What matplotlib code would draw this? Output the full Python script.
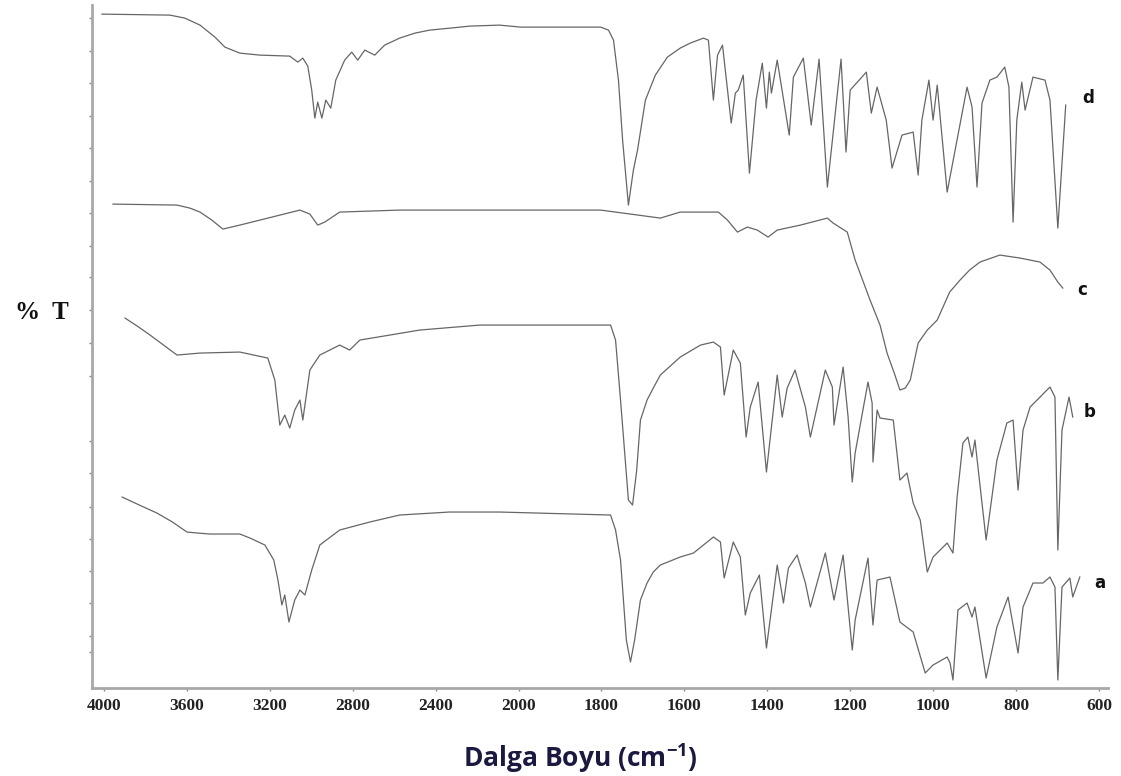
import numpy as np
import matplotlib.pyplot as plt

plt.rcParams['mathtext.fontset'] = 'custom'
plt.rcParams['mathtext.rm'] = 'Open Sans:bold'
plt.rcParams['mathtext.default'] = 'rm'

# IR spektrumlari (dalga sayisi cm-1, kaydirilmis %T)
wn_d = [4010, 3682, 3610, 3537, 3465, 3417, 3345, 3248, 3104, 3065, 3041, 3017, 2998, 2983, 2969,
        2949, 2930, 2906, 2882, 2839, 2805, 2776, 2742, 2694, 2646, 2574, 2500, 2429, 2330, 2236,
        2092, 1995, 1899, 1802, 1783, 1771, 1759, 1749, 1735, 1723, 1713, 1694, 1670, 1641, 1610,
        1586, 1554, 1542, 1530, 1520, 1508, 1487, 1477, 1470, 1458, 1443, 1427, 1412, 1402, 1395,
        1390, 1376, 1347, 1337, 1313, 1294, 1275, 1255, 1222, 1210, 1200, 1161, 1149, 1135, 1113,
        1099, 1075, 1048, 1036, 1027, 1010, 1000, 990, 966, 918, 906, 894, 882, 863, 846,
        827, 817, 807, 798, 786, 778, 759, 730, 718, 699, 680]
t_d = [674, 673, 670, 663, 651, 641, 635, 633, 632, 626, 630, 622, 598, 570, 586,
       570, 588, 580, 608, 628, 636, 628, 638, 633, 643, 650, 655, 658, 660, 662,
       663, 661, 661, 661, 658, 648, 608, 548, 483, 518, 538, 588, 613, 631, 640,
       645, 650, 648, 588, 633, 643, 565, 595, 598, 613, 515, 588, 625, 580, 616,
       595, 628, 553, 611, 630, 563, 629, 501, 629, 536, 598, 616, 575, 601, 568,
       520, 553, 556, 513, 568, 608, 568, 603, 496, 601, 581, 501, 585, 608, 611,
       621, 601, 466, 568, 606, 578, 611, 608, 588, 460, 583]

wn_c = [3957, 3648, 3586, 3537, 3480, 3427, 3345, 3248, 3055, 3007, 2969, 2935, 2863, 2574, 2092,
        1802, 1658, 1610, 1518, 1496, 1472, 1448, 1424, 1398, 1376, 1320, 1255, 1241, 1207, 1188,
        1152, 1128, 1111, 1092, 1080, 1067, 1055, 1036, 1014, 990, 960, 935, 912, 887, 839,
        790, 742, 718, 699, 687]
t_c = [484, 483, 480, 476, 468, 459, 463, 468, 478, 474, 463, 466, 476, 478, 478,
       478, 470, 476, 476, 468, 456, 461, 458, 451, 458, 463, 470, 465, 456, 428,
       388, 363, 335, 313, 298, 300, 308, 345, 358, 368, 396, 408, 418, 426, 433,
       430, 426, 418, 406, 400]

wn_b = [3899, 3840, 3778, 3700, 3648, 3537, 3345, 3210, 3176, 3152, 3128, 3104, 3080, 3055, 3041,
        3007, 2959, 2863, 2815, 2766, 2477, 2188, 1778, 1766, 1754, 1735, 1725, 1715, 1706, 1690,
        1675, 1658, 1610, 1561, 1530, 1513, 1504, 1482, 1465, 1451, 1441, 1422, 1402, 1376, 1364,
        1352, 1333, 1308, 1296, 1260, 1243, 1239, 1217, 1205, 1195, 1188, 1157, 1147, 1145, 1135,
        1128, 1096, 1080, 1063, 1048, 1031, 1014, 1000, 966, 952, 942, 928, 916, 906, 899,
        872, 846, 822, 807, 795, 783, 766, 742, 718, 706, 699, 689, 672, 663]
t_b = [370, 362, 353, 341, 333, 335, 336, 330, 308, 263, 273, 260, 278, 288, 268,
       318, 333, 343, 338, 348, 358, 363, 363, 348, 288, 188, 183, 218, 268, 288,
       300, 313, 331, 343, 346, 341, 293, 338, 325, 251, 281, 306, 216, 313, 271,
       300, 318, 281, 251, 318, 301, 263, 321, 271, 206, 235, 306, 285, 226, 278,
       270, 268, 208, 215, 185, 168, 116, 131, 145, 135, 191, 245, 251, 231, 248,
       148, 228, 265, 268, 198, 258, 281, 291, 301, 291, 138, 258, 291, 271]

wn_a = [3913, 3830, 3745, 3670, 3600, 3550, 3489, 3345, 3296, 3224, 3181, 3161, 3142, 3128, 3108,
        3080, 3055, 3031, 2998, 2959, 2863, 2718, 2574, 2333, 2092, 1778, 1766, 1754, 1740, 1730,
        1720, 1706, 1690, 1675, 1658, 1610, 1578, 1530, 1513, 1504, 1482, 1465, 1453, 1441, 1419,
        1402, 1376, 1361, 1349, 1328, 1308, 1296, 1260, 1239, 1217, 1205, 1195, 1188, 1157, 1145,
        1135, 1104, 1080, 1048, 1019, 1000, 966, 959, 952, 940, 918, 906, 899, 872, 846,
        819, 795, 783, 759, 735, 718, 706, 699, 689, 670, 663, 646]
t_a = [191, 183, 175, 166, 156, 155, 154, 154, 150, 143, 128, 108, 83, 93, 66,
       88, 98, 93, 118, 143, 158, 166, 173, 176, 176, 173, 158, 128, 48, 26,
       48, 88, 105, 116, 123, 131, 135, 151, 146, 110, 146, 131, 73, 95, 113,
       40, 123, 85, 120, 133, 105, 81, 135, 88, 133, 81, 38, 68, 130, 63,
       108, 111, 66, 56, 15, 23, 31, 25, 8, 78, 85, 71, 81, 10, 61,
       91, 35, 81, 105, 105, 111, 101, 8, 101, 110, 91, 111]

xticks = [4000, 3600, 3200, 2800, 2400, 2000, 1800, 1600, 1400, 1200, 1000, 800, 600]
etiketler = ['d', 'c', 'b', 'a']
etiket_yer = [(626, 590), (641, 398), (622, 276), (598, 105)]


# 2000 cm-1 altinda olcek iki katina cikiyor
def ileri(w):
    w = np.asarray(w, dtype=float)
    return np.where(w >= 2000, w, 2000 + 2 * (w - 2000))


def geri(u):
    u = np.asarray(u, dtype=float)
    return np.where(u >= 2000, u, 2000 + (u - 2000) / 2)


fig = plt.figure(figsize=(11.21, 7.76), dpi=100)
ax = fig.add_axes([0.0821, 0.1134, 0.9063, 0.880])
ax.set_xscale('function', functions=(ileri, geri))

for wn, t in [(wn_d, t_d), (wn_c, t_c), (wn_b, t_b), (wn_a, t_a)]:
    ax.plot(wn, t, color='#666666', lw=0.9, solid_joinstyle='round')

for harf, (x, y) in zip(etiketler, etiket_yer):
    ax.text(x, y, harf, fontsize=12, fontweight='bold', family='DejaVu Sans',
            ha='center', va='center', color='#111111')

ax.set_xlim(4058, 578)
ax.set_ylim(0, 683)
ax.set_xticks(xticks)
ax.set_xticklabels([str(v) for v in xticks], family='Liberation Serif',
                   fontweight='bold', fontsize=12.5, color='#222222')
ax.set_yticks([670, 637, 605, 572, 540, 507, 475, 442, 411, 378, 345, 312,
               247, 215, 181, 149, 117, 85, 52, 36])
ax.set_yticklabels([])
ax.tick_params(axis='both', direction='out', length=2.5, width=1, color='#888888')
ax.tick_params(axis='x', pad=5)

for s in ['top', 'right']:
    ax.spines[s].set_visible(False)
for s in ['left', 'bottom']:
    ax.spines[s].set_color('#a8a8a8')
    ax.spines[s].set_linewidth(2)

fig.text(0.037, 0.597, '%  T', family='Liberation Serif', fontweight='bold',
         fontsize=18, ha='center', va='center', color='#111111')
fig.text(0.518, 0.023, 'Dalga Boyu (cm$^{-1}$)', family='Open Sans', fontweight='bold',
         fontsize=19, ha='center', va='center', color='#1a1a40')

fig.savefig('out.png', dpi=100)
